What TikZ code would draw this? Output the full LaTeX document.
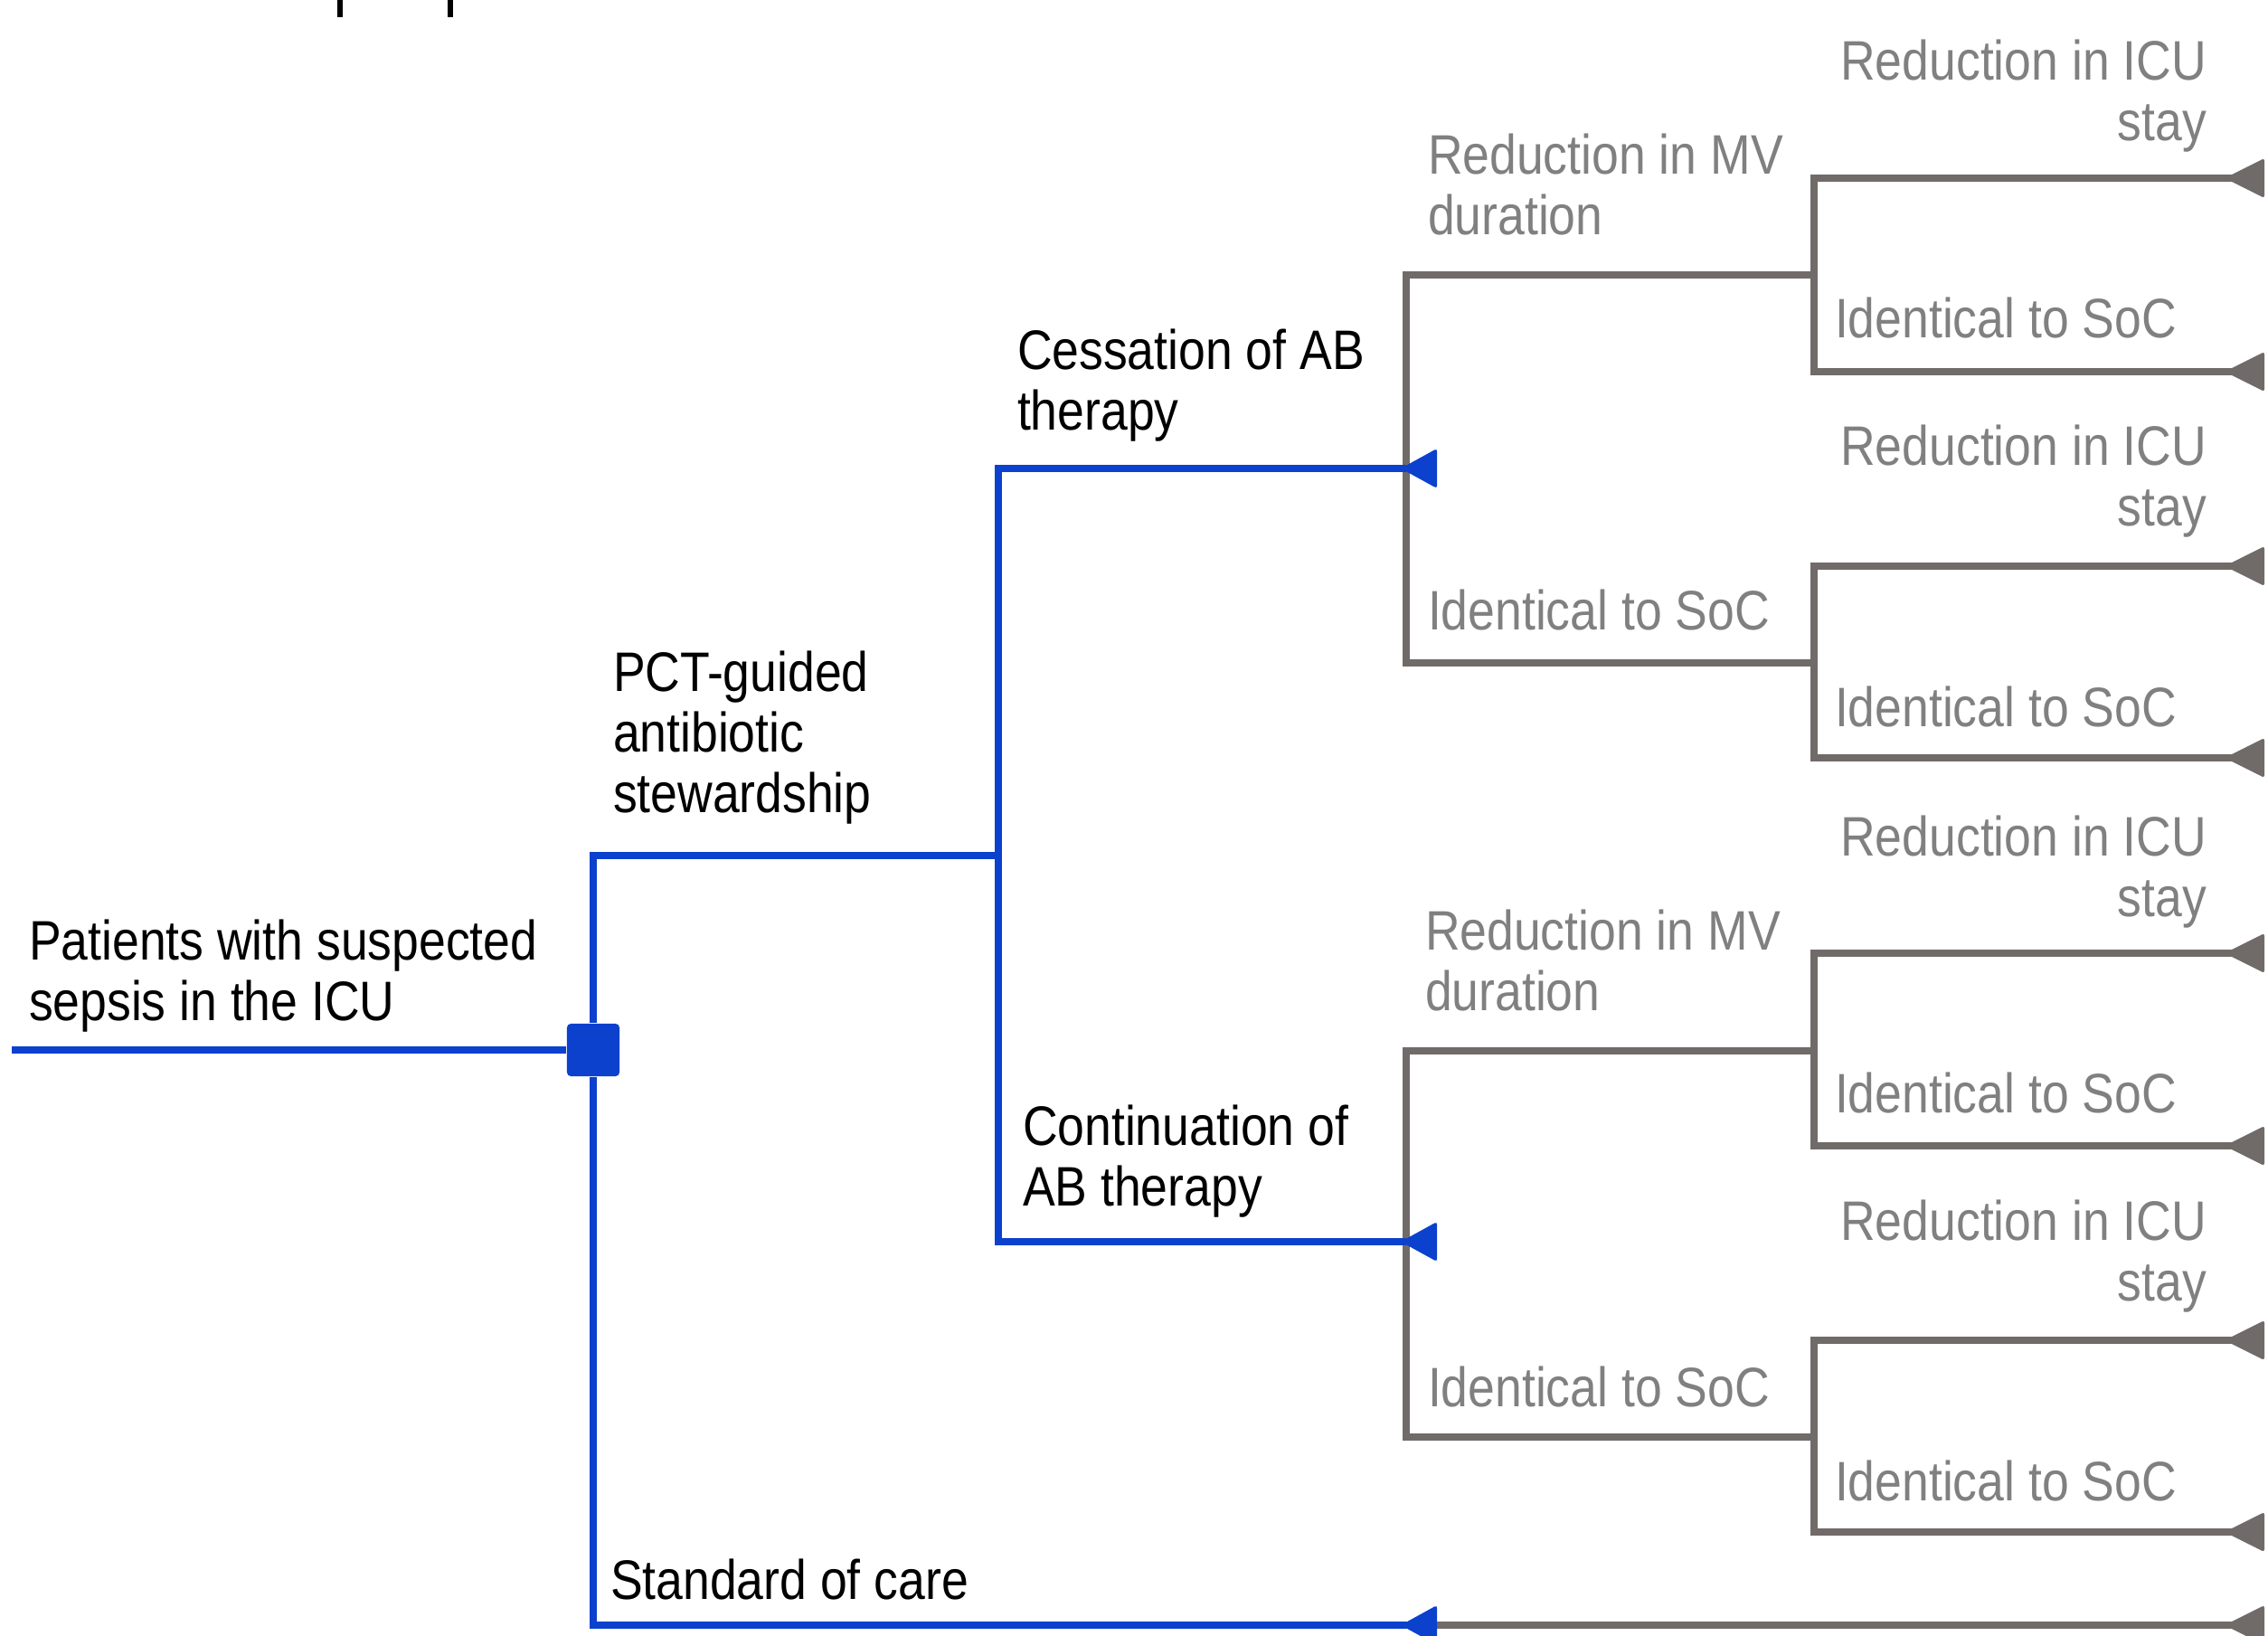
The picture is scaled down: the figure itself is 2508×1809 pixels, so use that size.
\documentclass[tikz,border=0pt]{standalone}
\usepackage{fontspec}
\setmainfont{Liberation Sans}[FakeStretch=0.87]
\usetikzlibrary{calc}
\definecolor{rblue}{HTML}{0B41CD}
\definecolor{rgrayline}{HTML}{706B69}
\definecolor{rgraytext}{HTML}{808080}
\begin{document}
\begin{tikzpicture}[x=0.01cm,y=-0.01cm,
  blueline/.style={draw=rblue,line width=2.3pt},
  grayline/.style={draw=rgrayline,line width=2.3pt},
  lbl/.style={inner sep=0pt,outer sep=0pt,font=\fontsize{17.5}{19.0}\selectfont,text=black},
  glbl/.style={lbl,text=rgraytext},
  decision/.style={fill=rblue,minimum size=0.58cm,inner sep=0pt,rounded corners=1.2pt},
  bluetri/.style={fill=rblue,rounded corners=0.8pt},
  graytri/.style={fill=rgrayline,rounded corners=0.8pt}]
\useasboundingbox (0,0) rectangle (2508,1809);
% fragments of cut-off title at the top
\fill[black] (373,0) rectangle (379,19);
\fill[black] (495,0) rectangle (501,19);
% junctions
\coordinate (start) at (13,1161);
\coordinate (pct) at (1104,946);
\coordinate (cess) at (1555,518);
\coordinate (cont) at (1555,1373);
\coordinate (soc) at (1555,1797);
\coordinate (mv1) at (2006,304);
\coordinate (id1) at (2006,733);
\coordinate (mv2) at (2006,1162);
\coordinate (id2) at (2006,1589);
\coordinate (e1) at (2504,197);
\coordinate (e2) at (2504,411);
\coordinate (e3) at (2504,626);
\coordinate (e4) at (2504,838);
\coordinate (e5) at (2504,1054);
\coordinate (e6) at (2504,1267);
\coordinate (e7) at (2504,1482);
\coordinate (e8) at (2504,1694);
\coordinate (e9) at (2504,1797);
% gray branches
\draw[grayline] (mv1) -| (cess) |- (id1);
\draw[grayline] (mv2) -| (cont) |- (id2);
\draw[grayline] (e1) -| (mv1) |- (e2);
\draw[grayline] (e3) -| (id1) |- (e4);
\draw[grayline] (e5) -| (mv2) |- (e6);
\draw[grayline] (e7) -| (id2) |- (e8);
\draw[grayline] (soc) -- (e9);
% gray terminal triangles
\foreach \e in {e1,e2,e3,e4,e5,e6,e7,e8,e9}
  \fill[graytri] ($(\e)+(-44,0)$) -- ++(44,-22) -- ++(0,44) -- cycle;
% blue branches
\node[decision] (D) at (656,1161) {};
\draw[blueline] (start) -- (D.west);
\draw[blueline] (D.north) |- (pct);
\draw[blueline] (cess) -| (pct) |- (cont);
\draw[blueline] (D.south) |- (soc);
\foreach \e in {cess,cont,soc}
  \fill[bluetri] ($(\e)+(-6,0)$) -- ++(40,-22) -- ++(0,44) -- cycle;
% labels (multi-line nodes: base anchor = baseline of last line)
\node[lbl,anchor=base west,align=left] (tpat) at (32,1128) {Patients with suspected\\sepsis in the ICU};
\node[lbl,anchor=base west,align=left] (tpct) at (678,898) {PCT-guided\\antibiotic\\stewardship};
\node[lbl,anchor=base west,align=left] (tcess) at (1125,475) {Cessation of AB\\therapy};
\node[lbl,anchor=base west,align=left] (tcont) at (1131,1333) {Continuation of\\AB therapy};
\node[lbl,anchor=base west] (tsoc) at (675,1768) {Standard of care};
\node[glbl,anchor=base west,align=left] (tmv1) at (1579,259) {Reduction in MV\\duration};
\node[glbl,anchor=base west] (tid1) at (1579,696) {Identical to SoC};
\node[glbl,anchor=base west,align=left] (tmv2) at (1576,1117) {Reduction in MV\\duration};
\node[glbl,anchor=base west] (tid2) at (1579,1555) {Identical to SoC};
\node[glbl,anchor=base east,align=right] (ticu1) at (2440,155) {Reduction in ICU\\stay};
\node[glbl,anchor=base west] (tsoc1) at (2029,373) {Identical to SoC};
\node[glbl,anchor=base east,align=right] (ticu2) at (2440,581) {Reduction in ICU\\stay};
\node[glbl,anchor=base west] (tsoc2) at (2029,803) {Identical to SoC};
\node[glbl,anchor=base east,align=right] (ticu3) at (2440,1013) {Reduction in ICU\\stay};
\node[glbl,anchor=base west] (tsoc3) at (2029,1230) {Identical to SoC};
\node[glbl,anchor=base east,align=right] (ticu4) at (2440,1438) {Reduction in ICU\\stay};
\node[glbl,anchor=base west] (tsoc4) at (2029,1659) {Identical to SoC};
\end{tikzpicture}
\end{document}
